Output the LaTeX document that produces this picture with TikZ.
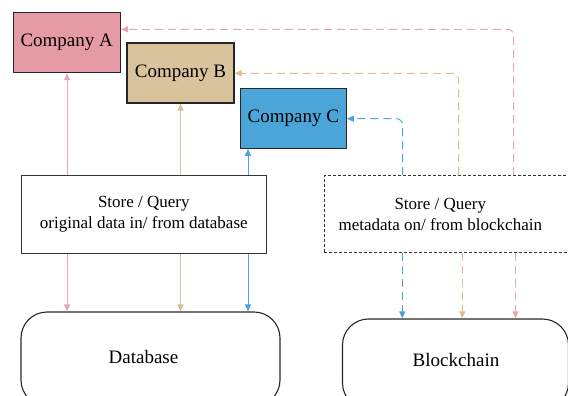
\documentclass[tikz,border=0pt]{standalone}
\usepackage{fontspec}
\setmainfont{Liberation Serif}
\usetikzlibrary{arrows.meta,calc}
\definecolor{cAfill}{HTML}{E59AA4}
\definecolor{cBfill}{HTML}{D9C39C}
\definecolor{cCfill}{HTML}{4BA5D8}
\definecolor{lpink}{HTML}{EBA5B0}
\definecolor{ltan}{HTML}{DBBF93}
\definecolor{lblue}{HTML}{4AA4D9}
\tikzset{
  company/.style={draw=black!85,line width=1.1pt,minimum width=107pt,minimum height=60pt,inner sep=0pt,font=\fontsize{19}{22}\selectfont},
  storebox/.style={draw=black!80,line width=1pt,inner sep=0pt},
  storetext/.style={align=center,inner sep=0pt,font=\fontsize{17}{21}\selectfont},
  bigtext/.style={inner sep=0pt,font=\fontsize{19}{22}\selectfont},
  conn/.style={line width=1pt,-{Triangle[length=7pt,width=6pt]}},
  dconn/.style={conn,dash pattern=on 8pt off 5pt,rounded corners=6pt},
}
\begin{document}
\begin{tikzpicture}[x=1pt,y=-1pt]
\useasboundingbox (0,0) rectangle (568,396);
\clip (0,0) rectangle (568,396);
% companies
\node[company,fill=cAfill] (compA) at (66.7,42.7) {Company A};
\node[company,fill=cBfill,minimum width=107pt] (compB) at (180.5,73) {Company B};
\node[company,fill=cCfill,minimum width=106pt] (compC) at (293.3,118.3) {Company C};
% store boxes
\node[storebox,minimum width=245pt,minimum height=77.5pt] (storeDB) at (143.8,214.5) {};
\node[storetext] (storeDBt) at (143.8,214.5) {Store / Query\\original data in/ from database};
\node[storebox,dash pattern=on 3pt off 2pt,minimum width=260pt,minimum height=77pt] (storeBC) at (454,214.2) {};
\node[storetext] (storeBCt) at (440.3,214.5) {Store / Query\\metadata on/ from blockchain};
% storage
\node[draw=black!85,line width=1.1pt,rounded corners=26pt,minimum width=259pt,minimum height=94pt,inner sep=0pt] (db) at (150.5,359) {};
\node[bigtext] (dbt) at (143.5,357) {Database};
\node[draw=black!85,line width=1.1pt,rounded corners=26pt,minimum width=226pt,minimum height=90pt,inner sep=0pt] (bc) at (455.5,364) {};
\node[bigtext] (bct) at (456,360) {Blockchain};
% x positions
\coordinate (xa) at (67,0);
\coordinate (xb) at (180.5,0);
\coordinate (xc) at (248,0);
\coordinate (xpu) at (513.5,0);
\coordinate (xtu) at (458.5,0);
\coordinate (xbu) at (402.5,0);
\coordinate (xpd) at (515.5,0);
\coordinate (xtd) at (462.3,0);
\coordinate (xbd) at (402.3,0);
\coordinate (ya) at (0,29.3);
\coordinate (yb) at (0,73.3);
\coordinate (yc) at (0,118.7);
% solid connectors
\draw[conn,lpink] (storeDB.north -| xa) -- (compA.south -| xa);
\draw[conn,ltan] (storeDB.north -| xb) -- (compB.south -| xb);
\draw[conn,lblue] (storeDB.north -| xc) -- (compC.south -| xc);
\draw[conn,lpink] (storeDB.south -| xa) -- (db.north -| xa);
\draw[conn,ltan] (storeDB.south -| xb) -- (db.north -| xb);
\draw[conn,lblue] (storeDB.south -| xc) -- (db.north -| xc);
% dashed connectors
\draw[dconn,lpink] (storeBC.north -| xpu) -- (xpu |- ya) -- (compA.east |- ya);
\draw[dconn,ltan] (storeBC.north -| xtu) -- (xtu |- yb) -- (compB.east |- yb);
\draw[dconn,lblue] (storeBC.north -| xbu) -- (xbu |- yc) -- (compC.east |- yc);
\draw[dconn,lpink] (storeBC.south -| xpd) -- (bc.north -| xpd);
\draw[dconn,ltan] (storeBC.south -| xtd) -- (bc.north -| xtd);
\draw[dconn,lblue] (storeBC.south -| xbd) -- (bc.north -| xbd);
\end{tikzpicture}
\end{document}
